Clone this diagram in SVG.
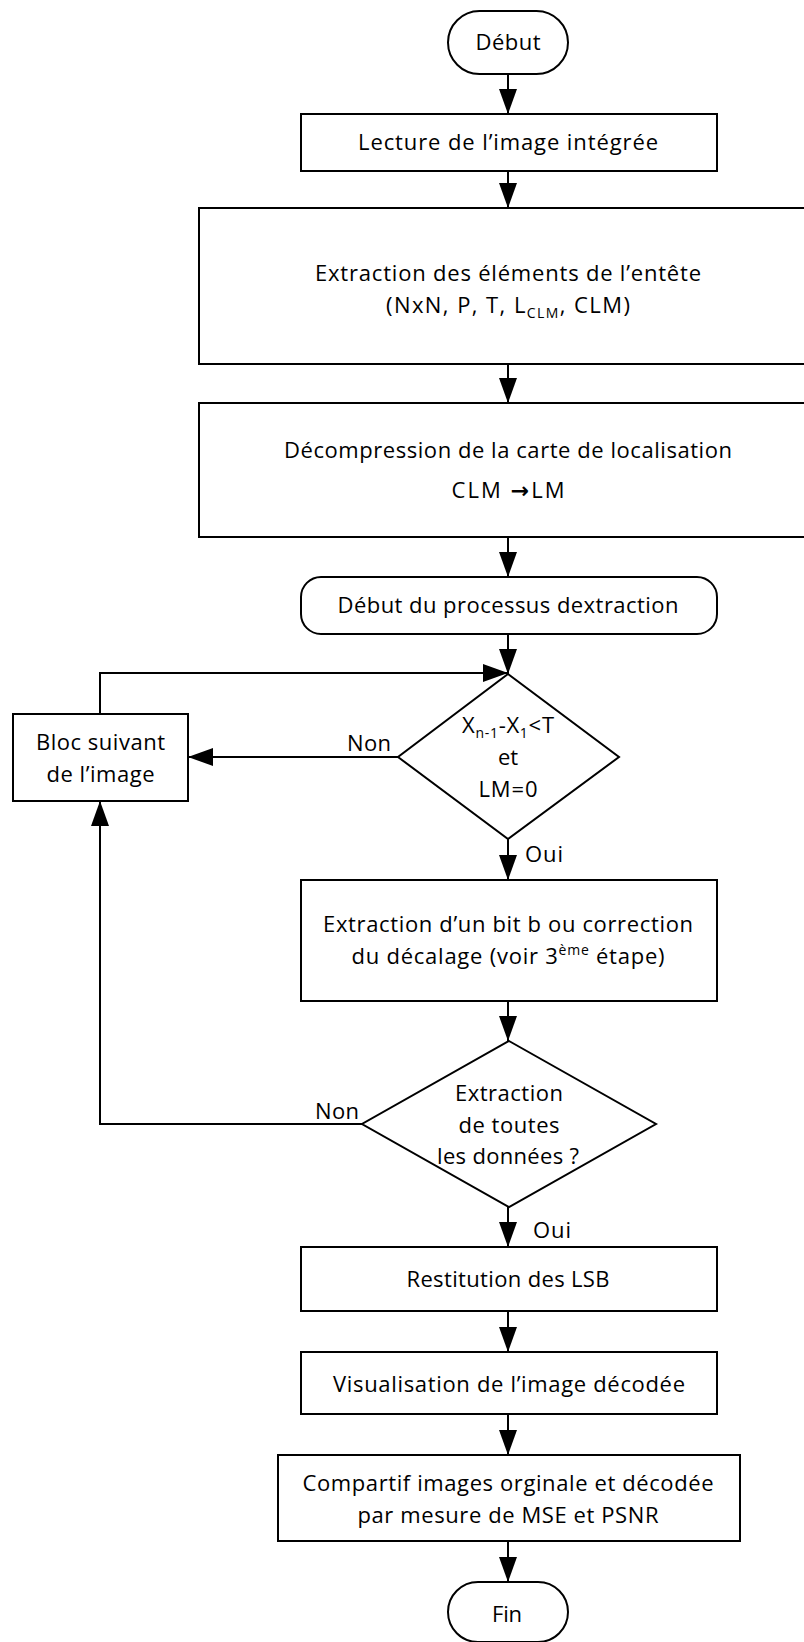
<svg xmlns="http://www.w3.org/2000/svg" width="804" height="1642" viewBox="0 0 804 1642">
  <style>
    .shape { fill: #ffffff; stroke: #000000; stroke-width: 2; }
    .conn { fill: none; stroke: #000000; stroke-width: 2; marker-end: url(#arrow); }
    text { font-family: "Open Sans", "Liberation Sans", Arial, sans-serif; font-size: 22px; fill: #000000; }
    .c { text-anchor: middle; }
    .e { text-anchor: end; }
    .sub { font-size: 14px; }
    .sym { font-family: "DejaVu Sans", sans-serif; font-weight: bold; font-size: 22px; }
  </style>
  <defs>
    <marker id="arrow" markerUnits="userSpaceOnUse" markerWidth="25" markerHeight="18" refX="25" refY="9" orient="auto">
      <path d="M0,0 L25,9 L0,18 Z" fill="#000000"/>
    </marker>
  </defs>

  <rect width="804" height="1642" fill="#ffffff"/>

  <!-- connectors and branch labels -->
  <g id="connectors">
    <line class="conn" x1="508" y1="74" x2="508" y2="114"/>
    <line class="conn" x1="508" y1="171" x2="508" y2="208"/>
    <line class="conn" x1="508" y1="364" x2="508" y2="403"/>
    <line class="conn" x1="508" y1="537" x2="508" y2="577"/>
    <line class="conn" x1="508" y1="634" x2="508" y2="674"/>
    <polyline class="conn" points="100,714 100,673 508,673"/>
    <line class="conn" x1="398" y1="757" x2="188" y2="757"/>
    <line class="conn" x1="508" y1="839" x2="508" y2="880"/>
    <line class="conn" x1="508" y1="1001" x2="508" y2="1041"/>
    <polyline class="conn" points="362,1124 100,1124 100,801"/>
    <line class="conn" x1="508" y1="1207" x2="508" y2="1247"/>
    <line class="conn" x1="508" y1="1311" x2="508" y2="1352"/>
    <line class="conn" x1="508" y1="1414" x2="508" y2="1455"/>
    <line class="conn" x1="508" y1="1541" x2="508" y2="1582"/>
    <text x="391" y="751" class="e" textLength="44">Non</text>
    <text x="525" y="862" textLength="38">Oui</text>
    <text x="359" y="1119" class="e" textLength="44">Non</text>
    <text x="533" y="1238" textLength="38">Oui</text>
  </g>

  <g id="debut">
    <rect class="shape" x="448" y="11" width="120" height="63" rx="31.5"/>
    <text x="508" y="50" class="c" textLength="65">Début</text>
  </g>

  <g id="lecture">
    <rect class="shape" x="301" y="114" width="416" height="57"/>
    <text x="508" y="150" class="c" textLength="300">Lecture de l’image intégrée</text>
  </g>

  <g id="entete">
    <rect class="shape" x="199" y="208" width="640" height="156"/>
    <text x="508" y="281" class="c" textLength="386">Extraction des éléments de l’entête</text>
    <text x="508" y="313" class="c" textLength="244">(NxN, P, T, L<tspan class="sub" dy="5">CLM</tspan><tspan dy="-5">, CLM)</tspan></text>
  </g>

  <g id="decompression">
    <rect class="shape" x="199" y="403" width="640" height="134"/>
    <text x="508" y="458" class="c" textLength="448">Décompression de la carte de localisation</text>
    <text x="508" y="498" class="c" textLength="113">CLM <tspan class="sym">→</tspan>LM</text>
  </g>

  <g id="debut-extraction">
    <rect class="shape" x="301" y="577" width="416" height="57" rx="20"/>
    <text x="508" y="613" class="c" textLength="341">Début du processus dextraction</text>
  </g>

  <g id="test-bloc">
    <polygon class="shape" points="508,674 619,757 508,839 398,757"/>
    <text x="508" y="733" class="c" textLength="92">X<tspan class="sub" dy="5">n-1</tspan><tspan dy="-5">-X</tspan><tspan class="sub" dy="5">1</tspan><tspan dy="-5">&lt;T</tspan></text>
    <text x="508" y="765" class="c">et</text>
    <text x="508" y="797" class="c" textLength="59">LM=0</text>
  </g>

  <g id="bloc-suivant">
    <rect class="shape" x="13" y="714" width="175" height="87"/>
    <text x="100.5" y="750" class="c" textLength="129">Bloc suivant</text>
    <text x="100.5" y="782" class="c" textLength="108">de l’image</text>
  </g>

  <g id="extraction-bit">
    <rect class="shape" x="301" y="880" width="416" height="121"/>
    <text x="508" y="932" class="c" textLength="370">Extraction d’un bit b ou correction</text>
    <text x="508" y="964" class="c" textLength="313">du décalage (voir 3<tspan class="sub" dy="-9">ème</tspan><tspan dy="9"> étape)</tspan></text>
  </g>

  <g id="test-fin">
    <polygon class="shape" points="509,1041 656,1124 509,1207 362,1124"/>
    <text x="509" y="1101" class="c" textLength="108">Extraction</text>
    <text x="509" y="1133" class="c" textLength="101">de toutes</text>
    <text x="508" y="1164" class="c" textLength="142">les données ?</text>
  </g>

  <g id="restitution">
    <rect class="shape" x="301" y="1247" width="416" height="64"/>
    <text x="508" y="1287" class="c" textLength="203">Restitution des LSB</text>
  </g>

  <g id="visualisation">
    <rect class="shape" x="301" y="1352" width="416" height="62"/>
    <text x="509" y="1392" class="c" textLength="352">Visualisation de l’image décodée</text>
  </g>

  <g id="comparaison">
    <rect class="shape" x="278" y="1455" width="462" height="86"/>
    <text x="508" y="1491" class="c" textLength="411">Compartif images orginale et décodée</text>
    <text x="508" y="1523" class="c" textLength="301">par mesure de MSE et PSNR</text>
  </g>

  <g id="fin">
    <rect class="shape" x="448" y="1582" width="120" height="60" rx="30"/>
    <text x="507" y="1622" class="c" textLength="30">Fin</text>
  </g>
</svg>
